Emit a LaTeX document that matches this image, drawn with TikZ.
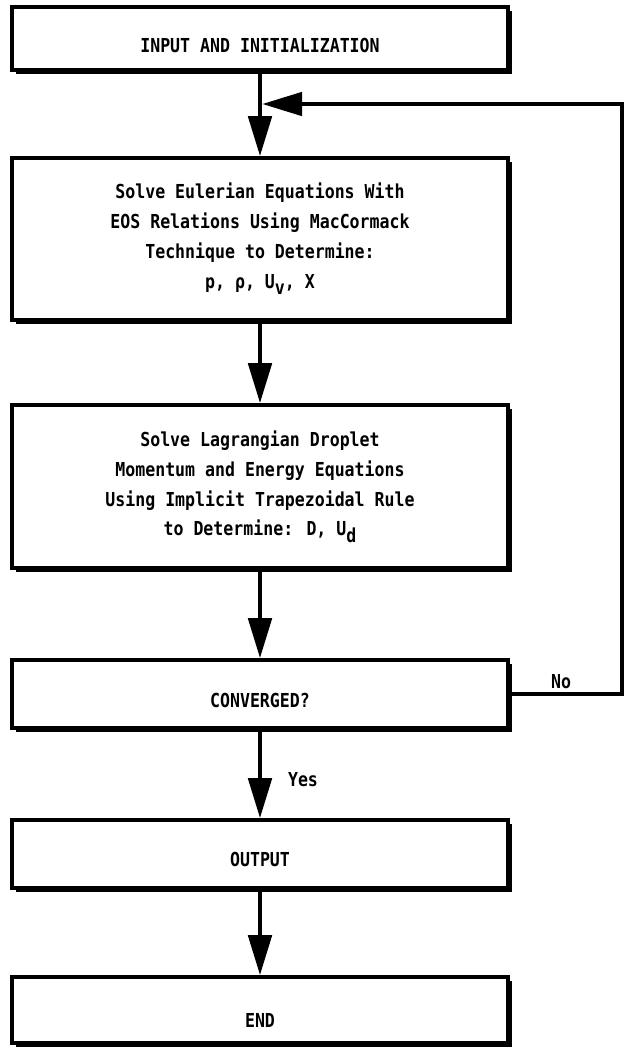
\documentclass[tikz,border=0pt]{standalone}
\usepackage{fontspec}
\newfontfamily\chartfont[FakeStretch=0.86]{DejaVu Sans Mono}
\usetikzlibrary{arrows.meta,positioning,shadows}
\newcommand{\lowsub}[1]{\raisebox{-0.6ex}{#1}}

\tikzset{
  chartbox/.style={draw, line width=0.9mm, fill=white, minimum width=124mm, align=center,
    font=\chartfont\bfseries\fontsize{13.7}{21.3}\selectfont,
    drop shadow={shadow xshift=1mm, shadow yshift=-1mm, fill=black, opacity=1}},
  onerow/.style={text depth=0mm, text height=#1},
  flow/.style={line width=1.1mm, -{Triangle[length=10mm,width=5.8mm]}},
  lbl/.style={font=\chartfont\bfseries\fontsize{13.7}{16}\selectfont}
}

\begin{document}
\begin{tikzpicture}[x=0.25mm,y=-0.25mm]
  \useasboundingbox (0,0) rectangle (625,1049);
  \node[chartbox, onerow=6.8mm, minimum height=15.75mm] (init) at (260,38.5) {INPUT AND INITIALIZATION};
  \node[chartbox, minimum height=40.5mm] (euler) at (260,239)
    {Solve Eulerian Equations With\\EOS Relations Using MacCormack\\Technique to Determine:\\p, ρ, U\lowsub{v}, X};
  \node[chartbox, minimum height=40.75mm] (drop) at (260,486.5)
    {Solve Lagrangian Droplet\\Momentum and Energy Equations\\Using Implicit Trapezoidal Rule\\to Determine: D, U\lowsub{d}};
  \node[chartbox, onerow=6.8mm, minimum height=17mm] (conv) at (260,694) {CONVERGED?};
  \node[chartbox, onerow=6.2mm, minimum height=17mm] (out) at (260,854) {OUTPUT};
  \node[chartbox, onerow=8.5mm, minimum height=16.5mm] (fin) at (260,1010) {END};

  % loop back
  \coordinate (join) at (260,104);
  \coordinate (turn) at (622,104);

  \draw[flow] (init) -- (euler);
  \draw[flow] (euler) -- (drop);
  \draw[flow] (drop) -- (conv);
  \draw[flow] (conv) -- (out);
  \draw[flow] (out) -- (fin);
  \draw[flow, shorten >=0.55mm] (conv.east) -| (turn) -- (join);

  \node[lbl] (lblNo) at (561,682) {No};
  \node[lbl] (lblYes) at (303,780) {Yes};
\end{tikzpicture}
\end{document}
